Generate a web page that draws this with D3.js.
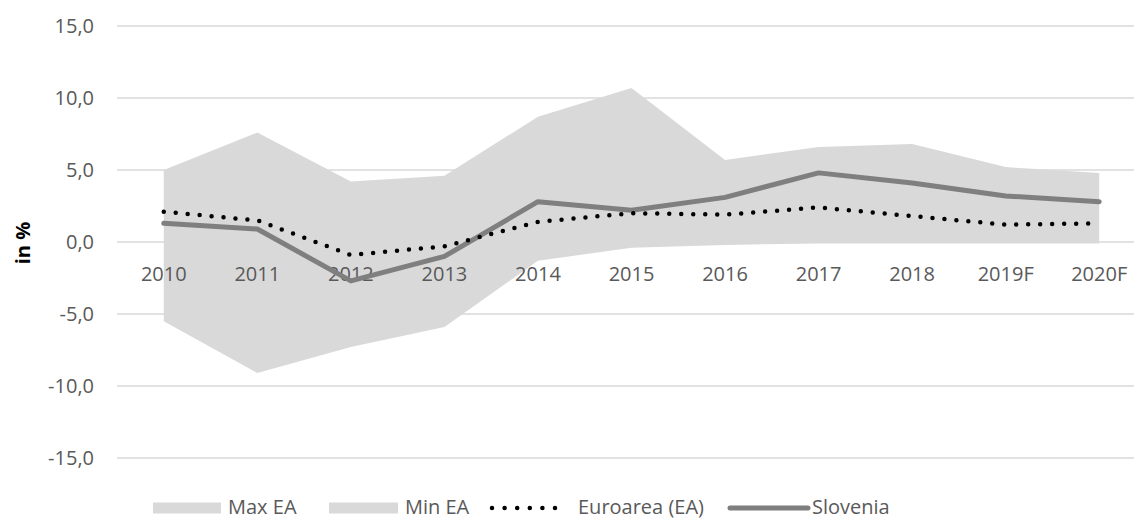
<!DOCTYPE html>
<html>
<head>
<meta charset="utf-8">
<script src="https://cdn.jsdelivr.net/npm/d3@7"></script>
<style>
	body { margin: 0; background: #fff; }
	svg text { font-family: "Open Sans", sans-serif; }
</style>
</head>
<body>
<svg id="chart"></svg>
<script>
//chart data
const years = ["2010", "2011", "2012", "2013", "2014", "2015", "2016", "2017", "2018", "2019F", "2020F"];
const maxEA = [5.0, 7.6, 4.2, 4.6, 8.7, 10.7, 5.7, 6.6, 6.8, 5.2, 4.8];
const minEA = [-5.5, -9.1, -7.3, -5.9, -1.3, -0.4, -0.2, -0.1, -0.1, -0.1, -0.1];
const euroArea = [2.1, 1.5, -0.9, -0.3, 1.4, 2.0, 1.9, 2.4, 1.8, 1.2, 1.3];
const slovenia = [1.3, 0.9, -2.7, -1.0, 2.8, 2.2, 3.1, 4.8, 4.1, 3.2, 2.8];
const yTicks = [-15, -10, -5, 0, 5, 10, 15];

const [w, h] = [1134, 520];
const svg = d3.select("#chart").attr("width", w).attr("height", h);

//scales
const xScale = d3.scalePoint().domain(years).range([117, 1146]).padding(0.5);
const yScale = d3.scaleLinear().domain([-15, 15]).range([458, 26]);

//gridlines
svg.append("g").selectAll("line").data(yTicks).enter().append("line")
	.attr("x1", 117).attr("x2", w)
	.attr("y1", d => yScale(d)).attr("y2", d => yScale(d))
	.attr("stroke", "#d9d9d9").attr("stroke-width", 1.5);

//y tick labels
const fmt = d => d3.format(".1f")(d).replace(".", ",").replace("−", "-");
svg.append("g").selectAll("text").data(yTicks).enter().append("text")
	.attr("x", 94).attr("y", d => yScale(d)).attr("dy", "0.35em")
	.attr("text-anchor", "end").attr("font-size", 20).attr("fill", "#595959")
	.text(fmt);

//Max EA and Min EA areas (both drawn from zero)
const areaFrom = arr => d3.area()
	.x((d, i) => xScale(years[i]))
	.y0(yScale(0))
	.y1(d => yScale(d))(arr);
svg.append("path").attr("d", areaFrom(maxEA)).attr("fill", "#d9d9d9");
svg.append("path").attr("d", areaFrom(minEA)).attr("fill", "#d9d9d9");

//category labels
svg.append("g").selectAll("text").data(years).enter().append("text")
	.attr("x", d => xScale(d)).attr("y", 281)
	.attr("text-anchor", "middle").attr("font-size", 20).attr("fill", "#595959")
	.text(d => d);

//lines
const line = d3.line().x((d, i) => xScale(years[i])).y(d => yScale(d));
svg.append("path").attr("d", line(slovenia))
	.attr("fill", "none").attr("stroke", "#7f7f7f").attr("stroke-width", 5)
	.attr("stroke-linecap", "round").attr("stroke-linejoin", "round");
svg.append("path").attr("d", line(euroArea))
	.attr("fill", "none").attr("stroke", "#000").attr("stroke-width", 4.5)
	.attr("stroke-linecap", "round").attr("stroke-dasharray", "0 12");

//y axis title
svg.append("text").attr("transform", "translate(30, 243) rotate(-90)")
	.attr("text-anchor", "middle").attr("font-size", 20).attr("font-weight", "bold")
	.attr("fill", "#000").text("in %");

//legend
const lg = svg.append("g").attr("font-size", 20).attr("fill", "#595959");
const ly = 508;
lg.append("rect").attr("x", 153).attr("y", ly - 5.5).attr("width", 68).attr("height", 11).attr("fill", "#d9d9d9");
lg.append("text").attr("x", 228).attr("y", 514).text("Max EA");
lg.append("rect").attr("x", 329).attr("y", ly - 5.5).attr("width", 69).attr("height", 11).attr("fill", "#d9d9d9");
lg.append("text").attr("x", 405).attr("y", 514).text("Min EA");
lg.append("line").attr("x1", 492).attr("x2", 567).attr("y1", ly).attr("y2", ly)
	.attr("stroke", "#000").attr("stroke-width", 4.5).attr("stroke-linecap", "round").attr("stroke-dasharray", "0 12.6");
lg.append("text").attr("x", 578).attr("y", 514).text("Euroarea (EA)");
lg.append("line").attr("x1", 730).attr("x2", 808).attr("y1", ly).attr("y2", ly)
	.attr("stroke", "#7f7f7f").attr("stroke-width", 5).attr("stroke-linecap", "round");
lg.append("text").attr("x", 812).attr("y", 514).text("Slovenia");
</script>
</body>
</html>
